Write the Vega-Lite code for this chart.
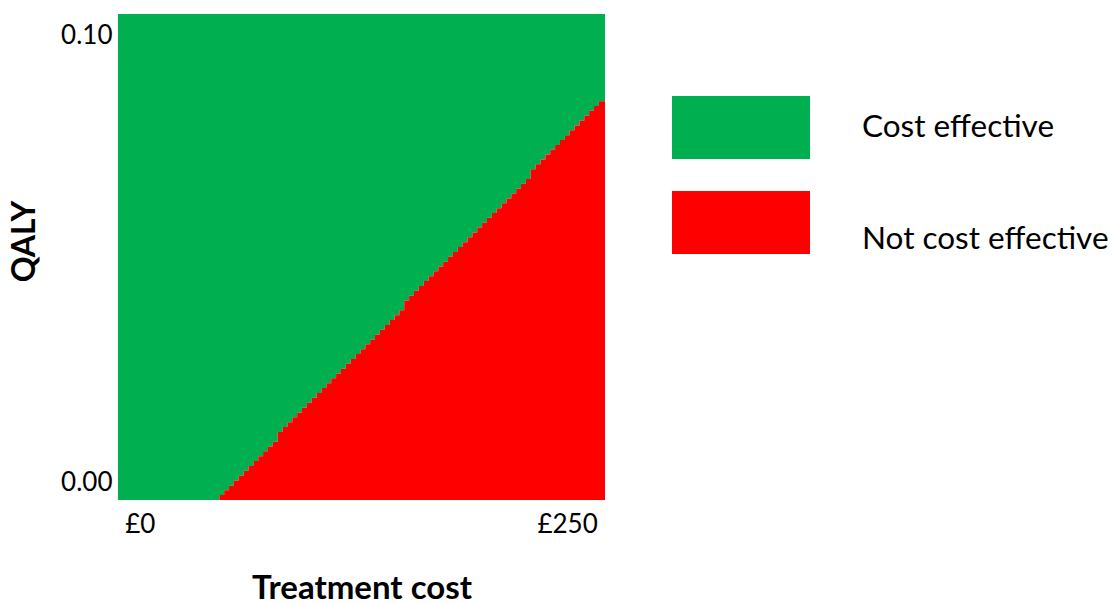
{
  "$schema": "https://vega.github.io/schema/vega-lite/v6.json",
  "width": 487,
  "height": 486,
  "autosize": {"type": "none"},
  "padding": {"left": 118, "top": 14, "right": 509, "bottom": 104},
  "background": "white",
  "config": {"view": {"stroke": null}, "font": "Lato"},
  "data": {"values": [
    {"cost": -12.7, "qaly": -0.0038},
    {"cost": 46.56, "qaly": -0.00271},
    {"cost": 49.41, "qaly": -0.00163},
    {"cost": 52.25, "qaly": -0.00054},
    {"cost": 55.10, "qaly": 0.00055},
    {"cost": 57.95, "qaly": 0.00164},
    {"cost": 60.80, "qaly": 0.00272},
    {"cost": 63.64, "qaly": 0.00381},
    {"cost": 66.49, "qaly": 0.00490},
    {"cost": 69.34, "qaly": 0.00598},
    {"cost": 72.18, "qaly": 0.00707},
    {"cost": 75.03, "qaly": 0.00816},
    {"cost": 77.88, "qaly": 0.00924},
    {"cost": 80.72, "qaly": 0.01142},
    {"cost": 83.57, "qaly": 0.01251},
    {"cost": 86.42, "qaly": 0.01359},
    {"cost": 89.27, "qaly": 0.01468},
    {"cost": 92.11, "qaly": 0.01577},
    {"cost": 94.96, "qaly": 0.01685},
    {"cost": 97.81, "qaly": 0.01794},
    {"cost": 100.65, "qaly": 0.01903},
    {"cost": 103.50, "qaly": 0.02011},
    {"cost": 106.35, "qaly": 0.02120},
    {"cost": 109.19, "qaly": 0.02229},
    {"cost": 112.04, "qaly": 0.02338},
    {"cost": 114.89, "qaly": 0.02446},
    {"cost": 117.74, "qaly": 0.02555},
    {"cost": 120.58, "qaly": 0.02664},
    {"cost": 123.43, "qaly": 0.02772},
    {"cost": 126.28, "qaly": 0.02881},
    {"cost": 129.12, "qaly": 0.02990},
    {"cost": 131.97, "qaly": 0.03098},
    {"cost": 134.82, "qaly": 0.03207},
    {"cost": 137.66, "qaly": 0.03316},
    {"cost": 140.51, "qaly": 0.03425},
    {"cost": 143.36, "qaly": 0.03533},
    {"cost": 146.21, "qaly": 0.03642},
    {"cost": 149.05, "qaly": 0.03751},
    {"cost": 151.90, "qaly": 0.03859},
    {"cost": 154.75, "qaly": 0.04077},
    {"cost": 157.59, "qaly": 0.04185},
    {"cost": 160.44, "qaly": 0.04294},
    {"cost": 163.29, "qaly": 0.04403},
    {"cost": 166.13, "qaly": 0.04512},
    {"cost": 168.98, "qaly": 0.04620},
    {"cost": 171.83, "qaly": 0.04729},
    {"cost": 174.68, "qaly": 0.04838},
    {"cost": 177.52, "qaly": 0.04946},
    {"cost": 180.37, "qaly": 0.05055},
    {"cost": 183.22, "qaly": 0.05164},
    {"cost": 186.06, "qaly": 0.05272},
    {"cost": 188.91, "qaly": 0.05381},
    {"cost": 191.76, "qaly": 0.05490},
    {"cost": 194.60, "qaly": 0.05599},
    {"cost": 197.45, "qaly": 0.05707},
    {"cost": 200.30, "qaly": 0.05816},
    {"cost": 203.15, "qaly": 0.05925},
    {"cost": 205.99, "qaly": 0.06033},
    {"cost": 208.84, "qaly": 0.06142},
    {"cost": 211.69, "qaly": 0.06251},
    {"cost": 214.53, "qaly": 0.06359},
    {"cost": 217.38, "qaly": 0.06468},
    {"cost": 220.23, "qaly": 0.06577},
    {"cost": 223.07, "qaly": 0.06686},
    {"cost": 225.92, "qaly": 0.06794},
    {"cost": 228.77, "qaly": 0.07012},
    {"cost": 231.62, "qaly": 0.07120},
    {"cost": 234.46, "qaly": 0.07229},
    {"cost": 237.31, "qaly": 0.07338},
    {"cost": 240.16, "qaly": 0.07446},
    {"cost": 243.00, "qaly": 0.07555},
    {"cost": 245.85, "qaly": 0.07664},
    {"cost": 248.70, "qaly": 0.07773},
    {"cost": 251.54, "qaly": 0.07881},
    {"cost": 254.39, "qaly": 0.07990},
    {"cost": 257.24, "qaly": 0.08099},
    {"cost": 260.09, "qaly": 0.08207},
    {"cost": 262.93, "qaly": 0.08316},
    {"cost": 265.78, "qaly": 0.08425},
    {"cost": 268.63, "qaly": 0.08533},
    {"cost": 272.2, "qaly": 0.08533}
  ]},
  "encoding": {
    "x": {
      "field": "cost", "type": "quantitative",
      "scale": {"domain": [-12.7, 272.2], "nice": false, "zero": false},
      "axis": {
        "title": "Treatment cost", "values": [0, 250],
        "labelExpr": "'£' + datum.value",
        "grid": false, "ticks": false, "tickSize": 0, "domain": false,
        "labelFont": "Lato", "labelFontSize": 26, "labelColor": "black",
        "labelBaseline": "alphabetic", "labelPadding": 32,
        "titleFont": "Lato", "titleFontSize": 33, "titleFontWeight": "bold", "titleColor": "black",
        "titleBaseline": "alphabetic", "titleY": 98
      }
    },
    "y": {
      "field": "qaly", "type": "quantitative",
      "scale": {"domain": [-0.0038, 0.1048], "nice": false, "zero": false},
      "axis": {
        "title": "QALY", "values": [0, 0.1], "format": ".2f",
        "grid": false, "ticks": false, "tickSize": 0, "domain": false,
        "labelFont": "Lato", "labelFontSize": 26, "labelColor": "black", "labelPadding": 6,
        "titleFont": "Lato", "titleFontSize": 32, "titleFontWeight": "bold", "titleColor": "black",
        "titleX": -94, "titleY": 227, "titleBaseline": "middle", "titleAlign": "center", "titleAngle": -90
      }
    }
  },
  "layer": [
    {
      "mark": {"type": "area", "interpolate": "step-after", "opacity": 1, "clip": true},
      "encoding": {
        "y2": {"datum": 0.1048},
        "color": {
          "datum": "Cost effective",
          "scale": {"domain": ["Cost effective", "Not cost effective"], "range": ["#00B050", "#FF0000"]},
          "legend": {
            "title": null, "orient": "none", "legendX": 554, "legendY": 82,
            "symbolType": "M-1,-0.4565H1V0.4565H-1Z", "symbolSize": 19044,
            "symbolStrokeWidth": 0, "symbolOpacity": 1, "clipHeight": 63,
            "labelFont": "Lato", "labelFontSize": 31.5, "labelColor": "black",
            "labelOffset": 52, "rowPadding": 32, "labelLimit": 400,
            "encode": {
              "labels": {
                "update": {
                  "dy": {"signal": "datum.label == 'Not cost effective' ? 17 : 0"}
                }
              }
            }
          }
        }
      }
    },
    {
      "mark": {"type": "area", "interpolate": "step-after", "opacity": 1, "clip": true},
      "encoding": {
        "y2": {"datum": -0.0038},
        "color": {"datum": "Not cost effective"}
      }
    }
  ]
}
